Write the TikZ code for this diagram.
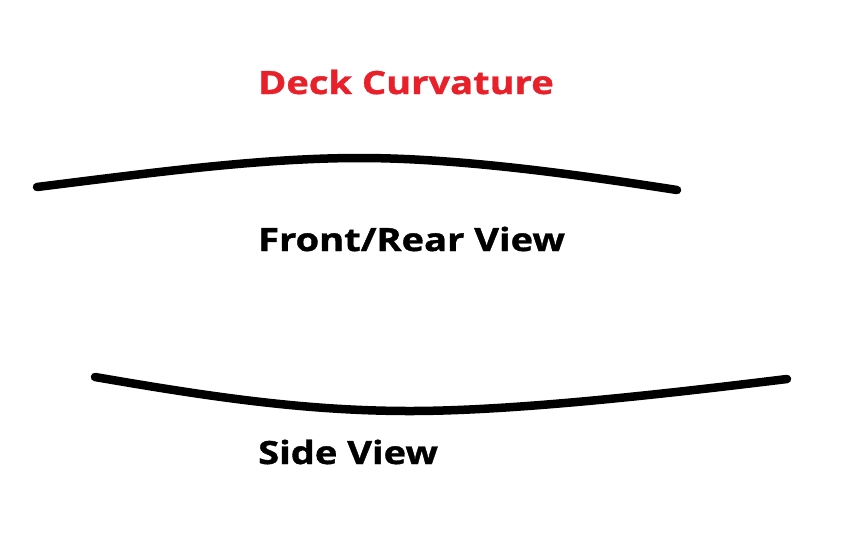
\documentclass[tikz,border=0pt]{standalone}
\usepackage{fontspec}
\setmainfont{Open Sans}[BoldFeatures={FakeStretch=1.19,FakeBold=1.2}]
\definecolor{deckred}{HTML}{E8202A}
\begin{document}
\begin{tikzpicture}[x=1pt,y=-1pt,
  lbl/.style={anchor=base west,inner sep=0pt,font=\fontsize{32}{36}\selectfont\bfseries},
  deck/.style={line width=8.5pt,line cap=round,line join=round}]
\useasboundingbox (0,0) rectangle (845,547);
\node[lbl,text=deckred] (title) at (258,94) {Deck Curvature};
\coordinate (f1) at (37,187);
\coordinate (f2) at (360,158);
\coordinate (f3) at (677,190);
\draw[deck] (f1) .. controls (150,173) and (260,158) .. (f2) .. controls (460,158) and (580,175) .. (f3);
\node[lbl] (front) at (258,251) {Front/Rear View};
\coordinate (s1) at (95,377);
\coordinate (s2) at (410,411);
\coordinate (s3) at (787,379);
\draw[deck] (s1) .. controls (200,395) and (300,411) .. (s2) .. controls (520,411) and (680,392) .. (s3);
\node[lbl] (side) at (258,464) {Side View};
\end{tikzpicture}
\end{document}
